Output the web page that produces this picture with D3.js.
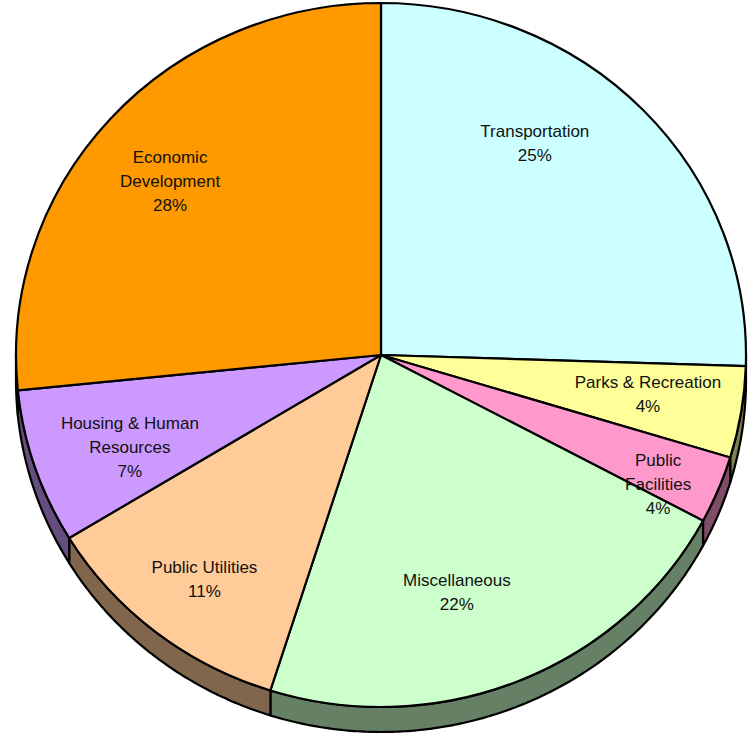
<!DOCTYPE html>
<html>
<head>
<meta charset="utf-8">
<script src="https://cdn.jsdelivr.net/npm/d3@7"></script>
<style>
  html, body { margin: 0; padding: 0; background: #fff; }
  svg { display: block; }
</style>
</head>
<body>
<svg id="chart" width="749" height="735"></svg>
<script>
// ---- data ----
const categories = ["Transportation", "Parks & Recreation", "Public Facilities", "Miscellaneous", "Public Utilities", "Housing & Human Resources", "Economic Development"];
const values = [25.5, 4.2, 3.1, 22.1, 11.4, 7.1, 26.6];
const percentLabels = ["25%", "4%", "4%", "22%", "11%", "7%", "28%"];
const nameLines = [["Transportation"], ["Parks & Recreation"], ["Public", "Facilities"], ["Miscellaneous"], ["Public Utilities"], ["Housing & Human", "Resources"], ["Economic", "Development"]];

// ---- styles / layout ----
const topColors = ["#CCFFFF", "#FFFF99", "#FF99CC", "#CCFFCC", "#FFCC99", "#CC99FF", "#FF9900"];
const labelPolar = [[35.1, 0.733], [98.8, 0.74], [115.9, 0.844], [162.9, 0.707], [217.2, 0.80], [249, 0.737], [310.5, 0.76]];

const cx = 381, cy = 355, rx = 365, ry = 352, depth = 25;
const lineH = 24;

const svg = d3.select("#chart");
const data = categories.map((c, i) => ({ name: c, value: values[i], i }));
const pie = d3.pie().sort(null).value(d => d.value).startAngle(0).endAngle(2 * Math.PI);
const arcs = pie(data);

const ex = a => cx + rx * Math.sin(a);
const ey = (a, dy = 0) => cy - ry * Math.cos(a) + dy;

const sideColor = c => { const k = d3.rgb(c); return d3.rgb(k.r * 0.5, k.g * 0.5, k.b * 0.5).toString(); };

// sides (visible front half: angles PI/2 .. 3PI/2)
const sideG = svg.append("g");
arcs.forEach(a => {
  const s = Math.max(a.startAngle, Math.PI / 2);
  const e = Math.min(a.endAngle, 3 * Math.PI / 2);
  if (e <= s) return;
  const n = Math.max(4, Math.ceil((e - s) / (Math.PI / 360)));
  const pts = [];
  for (let k = 0; k <= n; k++) { const t = s + (e - s) * k / n; pts.push([ex(t), ey(t)]); }
  for (let k = n; k >= 0; k--) { const t = s + (e - s) * k / n; pts.push([ex(t), ey(t, depth)]); }
  sideG.append("path")
    .attr("d", d3.line()(pts) + "Z")
    .attr("fill", sideColor(topColors[a.data.i]))
    .attr("stroke", "#000")
    .attr("stroke-width", 2.2)
    .attr("stroke-linejoin", "round");
});

// top faces
const arcGen = d3.arc().innerRadius(0).outerRadius(rx);
const topG = svg.append("g").attr("transform", `translate(${cx},${cy}) scale(1,${ry / rx})`);
topG.selectAll("path").data(arcs).join("path")
  .attr("d", arcGen)
  .attr("fill", d => topColors[d.data.i])
  .attr("stroke", "#000")
  .attr("stroke-width", 2.2)
  .attr("stroke-linejoin", "round")
  .attr("vector-effect", "non-scaling-stroke");

// labels
const labelG = svg.append("g")
  .attr("font-family", "'Liberation Sans', Arial, sans-serif")
  .attr("font-size", "17px")
  .attr("fill", "#111")
  .attr("text-anchor", "middle");
arcs.forEach(a => {
  const i = a.data.i;
  const ang = labelPolar[i][0] * Math.PI / 180, r = labelPolar[i][1];
  const x = cx + rx * r * Math.sin(ang);
  const y = cy - ry * r * Math.cos(ang);
  const lines = nameLines[i].concat([percentLabels[i]]);
  const y0 = y - (lines.length - 1) * lineH / 2;
  lines.forEach((ln, k) => {
    labelG.append("text")
      .attr("x", x)
      .attr("y", y0 + k * lineH)
      .attr("dominant-baseline", "central")
      .text(ln);
  });
});
</script>
</body>
</html>
